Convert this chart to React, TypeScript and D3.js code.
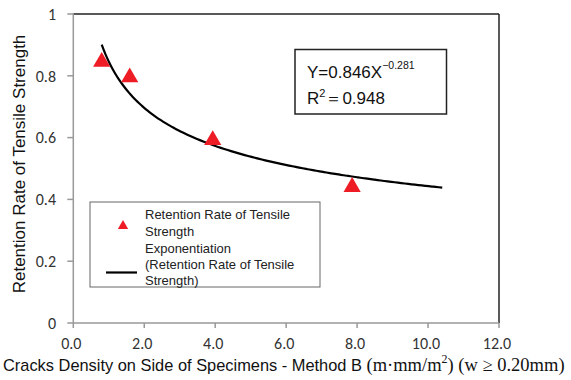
import React from "react";
import * as d3 from "d3";

const xValues = [0.8, 1.59, 3.93, 7.86];
const yValues = [0.845, 0.795, 0.592, 0.44];
const xTicks = [0, 2, 4, 6, 8, 10, 12];
const yTicks = [0, 0.2, 0.4, 0.6, 0.8, 1];
const fitCoef = [0.846, -0.281];
const fitRange = [0.8, 10.4];
const legendLabels = [
  ["Retention Rate of Tensile", "Strength"],
  ["Exponentiation", "(Retention Rate of Tensile", "Strength)"],
];

const W = 571;
const H = 380;

export default function App() {
  const x = d3.scaleLinear().domain([0, 12]).range([73.3, 499]);
  const y = d3.scaleLinear().domain([0, 1]).range([323, 14]);

  const fitPts: [number, number][] = d3
    .range(0, 101)
    .map((i) => fitRange[0] + ((fitRange[1] - fitRange[0]) * i) / 100)
    .map((v) => [v, fitCoef[0] * Math.pow(v, fitCoef[1])]);
  const line = d3
    .line<[number, number]>()
    .x((d) => x(d[0]))
    .y((d) => y(d[1]))
    .curve(d3.curveMonotoneX);

  const tri = d3.symbol().type(d3.symbolTriangle).size(128)();
  const triSmall = d3.symbol().type(d3.symbolTriangle).size(46)();

  const tickFont = "Carlito, Calibri, Lato, sans-serif";
  const sans = "'Liberation Sans', Arial, sans-serif";
  const serif = "'Liberation Serif', 'Times New Roman', serif";

  return (
    <svg
      width={W}
      height={H}
      style={{ position: "absolute", left: 0, top: 0, background: "#fff" }}
    >
      <rect x={0} y={0} width={W} height={H} fill="#fff" />
      {/* plot frame */}
      <line x1={x(0)} x2={x(12)} y1={y(1)} y2={y(1)} stroke="#222" strokeWidth={1.5} />
      <line x1={x(12)} x2={x(12)} y1={y(1)} y2={y(0)} stroke="#222" strokeWidth={1.5} />
      <line x1={x(0)} x2={x(0)} y1={y(1)} y2={y(0)} stroke="#999" strokeWidth={1.5} />
      <line x1={x(0)} x2={x(12)} y1={y(0)} y2={y(0)} stroke="#999" strokeWidth={1.5} />

      {/* y ticks */}
      {yTicks.map((t) => (
        <g key={"y" + t}>
          <line x1={x(0) - 6} x2={x(0)} y1={y(t)} y2={y(t)} stroke="#999" strokeWidth={1.5} />
          <text
            x={56}
            y={y(t)}
            dy="0.36em"
            textAnchor="end"
            fontFamily={tickFont}
            fontSize={16}
            fill="#333"
          >
            {t === 0 || t === 1 ? String(t) : t.toFixed(1)}
          </text>
        </g>
      ))}
      {/* x ticks */}
      {xTicks.map((t) => (
        <g key={"x" + t}>
          <line x1={x(t)} x2={x(t)} y1={y(0)} y2={y(0) + 5} stroke="#999" strokeWidth={1.5} />
          <text
            x={x(t) - 2}
            y={349}
            textAnchor="middle"
            fontFamily={tickFont}
            fontSize={16}
            fill="#333"
          >
            {t.toFixed(1)}
          </text>
        </g>
      ))}

      {/* fit curve */}
      <path d={line(fitPts) || ""} fill="none" stroke="#000" strokeWidth={2.2} />

      {/* data points */}
      {xValues.map((v, i) => (
        <path
          key={"p" + i}
          d={tri || ""}
          transform={`translate(${x(v)},${y(yValues[i])})`}
          fill="#ee1c25"
        />
      ))}

      {/* equation box */}
      <rect x={295} y={49.5} width={151.5} height={64.5} fill="#fff" stroke="#222" strokeWidth={1.5} />
      <text x={307} y={78} fontFamily={sans} fontSize={17} fill="#111">
        Y=0.846X
        <tspan fontSize={10.5} dy={-9}>−0.281</tspan>
      </text>
      <text x={307} y={104} fontFamily={sans} fontSize={17} fill="#111">
        R<tspan fontSize={11} dy={-7}>2</tspan>
        <tspan dy={7}>＝0.948</tspan>
      </text>

      {/* legend */}
      <rect x={90} y={202} width={230} height={85} fill="#fff" stroke="#666" strokeWidth={1} />
      <path d={triSmall || ""} transform="translate(123,226)" fill="#ee1c25" />
      <line x1={106} x2={137} y1={272.5} y2={272.5} stroke="#000" strokeWidth={2.2} />
      {legendLabels[0].map((s, i) => (
        <text key={"l0" + i} x={145} y={219 + i * 16.5} fontFamily={sans} fontSize={13} fill="#222">
          {s}
        </text>
      ))}
      {legendLabels[1].map((s, i) => (
        <text key={"l1" + i} x={145} y={253 + i * 16} fontFamily={sans} fontSize={13} fill="#222">
          {s}
        </text>
      ))}

      {/* axis titles */}
      <text
        transform="translate(25,164) rotate(-90)"
        textAnchor="middle"
        fontFamily={sans}
        fontSize={17}
        fill="#111"
      >
        Retention Rate of Tensile Strength
      </text>
      <text x={3} y={371} fontFamily={sans} fontSize={16.4} fill="#111">
        Cracks Density on Side of Specimens - Method B{" "}
        <tspan fontFamily={serif} fontSize={18.5}>
          (m·mm/m
        </tspan>
        <tspan fontFamily={serif} fontSize={12} dy={-8}>
          2
        </tspan>
        <tspan fontFamily={serif} fontSize={18.5} dy={8}>
          ) (w ≥ 0.20mm)
        </tspan>
      </text>
    </svg>
  );
}
